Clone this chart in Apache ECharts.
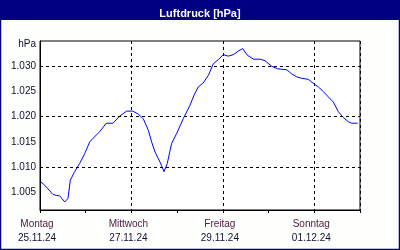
<!DOCTYPE html>
<html>
<head>
<meta charset="utf-8">
<script src="https://cdn.jsdelivr.net/npm/echarts@6/dist/echarts.min.js"></script>
<style>html,body{margin:0;padding:0;background:#fff}#c{width:400px;height:250px}</style>
</head>
<body>
<div id="c"></div>
<script>
// hours since Montag 25.11.24 00:00
var hours = [0.4,2.5,5.1,6.8,8.6,10.3,13.0,14.7,15.9,18.2,20.8,23.5,26.1,27.8,31.3,34.8,38.3,41.8,45.5,48.7,51.6,54.2,56.9,58.6,60.4,63.0,65.1,66.8,69.1,71.8,75.2,78.8,80.9,83.1,85.7,88.4,91.0,93.6,96.2,98.9,101.5,104.1,106.4,108.8,112.0,115.5,118.1,121.6,124.6,129.5,132.1,134.8,137.4,140.9,143.5,146.1,148.7,151.4,154.0,156.6,159.3,161.9,163.6,166.8];
var pressure = [1.0071,1.0064,1.0053,1.0046,1.0044,1.0043,1.0031,1.0038,1.0074,1.0091,1.0107,1.0127,1.0150,1.0157,1.0170,1.0187,1.0187,1.0201,1.0211,1.0211,1.0205,1.0196,1.0173,1.0150,1.0130,1.0110,1.0091,1.0107,1.0147,1.0167,1.0196,1.0223,1.0243,1.0259,1.0267,1.0282,1.0305,1.0313,1.0323,1.0320,1.0323,1.0330,1.0335,1.0322,1.0314,1.0314,1.0311,1.0300,1.0295,1.0293,1.0285,1.0279,1.0276,1.0274,1.0266,1.0259,1.0250,1.0239,1.0229,1.0210,1.0198,1.0190,1.0187,1.0187];
var dayNames = ['Montag','Mittwoch','Freitag','Sonntag'];
var dates = ['25.11.24','27.11.24','29.11.24','01.12.24'];
var yTicks = [1.005,1.010,1.015,1.020,1.025,1.030];
var yUnit = 'hPa';
var titleText = 'Luftdruck [hPa]';

var chart = echarts.init(document.getElementById('c'), null, {renderer:'canvas'});
var data = hours.map(function(h,i){return [h, pressure[i]];});
var FONT = 'Liberation Sans';
chart.setOption({
  animation:false,
  backgroundColor:'#fdfffd',
  title:{text:titleText,left:'center',top:3,textStyle:{color:'#fff',fontWeight:'bold',fontSize:11,fontFamily:FONT}},
  graphic:[
    {type:'rect',z:-1,shape:{x:0,y:0,width:400,height:20},style:{fill:'#000080'}},
    {type:'rect',z:10,shape:{x:0.5,y:0.5,width:399,height:249},style:{fill:null,stroke:'#000080',lineWidth:1.5}}
  ],
  grid:{left:40,right:40,top:41,bottom:40,show:true,borderColor:'#000',borderWidth:1,backgroundColor:'#fff'},
  xAxis:[{
    type:'value',min:0,max:168,interval:48,
    axisLine:{show:true,lineStyle:{color:'#000',width:1}},
    axisTick:{show:false},
    splitLine:{show:true,lineStyle:{color:'#000',type:[3,3],width:1}},
    axisLabel:{
      margin:7,padding:[0,6,0,0],showMaxLabel:false,
      formatter:function(v){var i=Math.round(v/48);return (i<dayNames.length)?'{d|'+dayNames[i]+'}\n{t|'+dates[i]+'}':'';},
      rich:{d:{color:'#502040',fontSize:10,fontFamily:FONT,lineHeight:14},t:{color:'#101030',fontSize:10,fontFamily:FONT,lineHeight:14}}
    }
  },{
    type:'value',min:0,max:168,interval:24,position:'bottom',
    axisLine:{show:false},axisTick:{show:true,length:3,lineStyle:{color:'#000'}},
    splitLine:{show:false},axisLabel:{show:false}
  }],
  yAxis:{
    type:'value',min:1.0015,max:1.035,
    axisLine:{show:true,lineStyle:{color:'#000'}},
    axisTick:{show:false},
    splitLine:{show:false},
    axisLabel:{
      customValues:yTicks.concat([1.035]),
      margin:4,color:'#101030',fontSize:10,fontFamily:FONT,
      formatter:function(v){return v>1.034?'{h|'+yUnit+'}':v.toFixed(3);},
      rich:{h:{padding:[6,0,0,0],fontSize:10,fontFamily:FONT,color:'#101030'}}
    }
  },
  series:[{
    type:'line',data:data,showSymbol:false,symbol:'none',
    lineStyle:{color:'#0000ff',width:1},
    markLine:{silent:true,symbol:'none',label:{show:false},animation:false,
      lineStyle:{color:'#000',type:[3,3],width:1},
      data:yTicks.map(function(v){return {yAxis:v};})}
  }]
});
</script>
</body>
</html>
